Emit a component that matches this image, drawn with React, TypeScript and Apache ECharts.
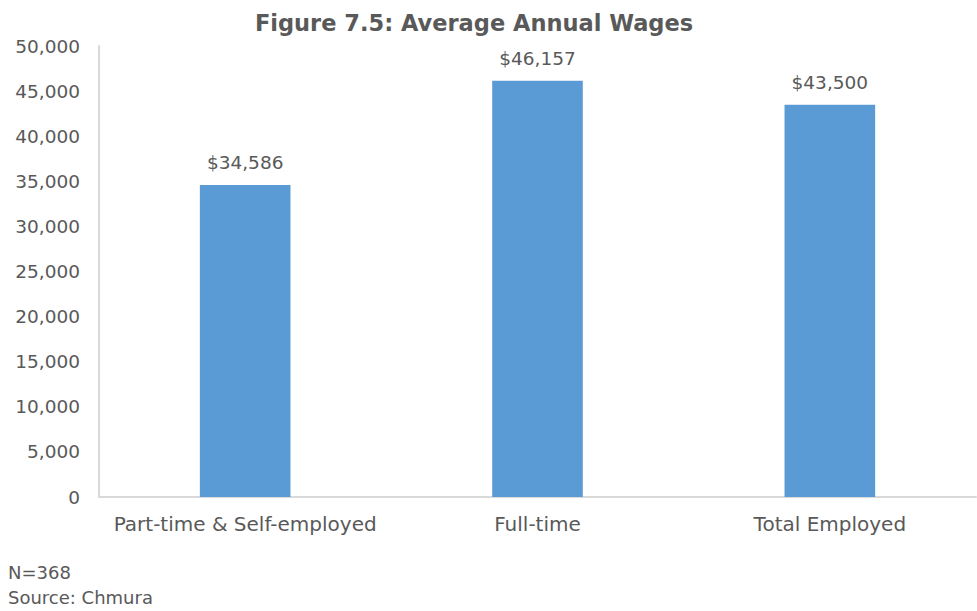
import React, { useEffect, useRef } from "react";
import * as echarts from "echarts";

const categories = ["Part-time & Self-employed", "Full-time", "Total Employed"];
const wages = [34586, 46157, 43500];
const titleText = "Figure 7.5: Average Annual Wages";
const notes = ["N=368", "Source: Chmura"];

const FONT = "'DejaVu Sans', sans-serif";
const TXT = "#595959";

export default function App() {
  const ref = useRef<HTMLDivElement>(null);
  useEffect(() => {
    document.body.style.margin = "0";
    if (!ref.current) return;
    const chart = echarts.init(ref.current, null, { renderer: "svg" });
    chart.setOption({
      animation: false,
      backgroundColor: "#ffffff",
      title: {
        text: titleText,
        left: 469,
        textAlign: "center",
        top: 6,
        textStyle: { fontFamily: FONT, fontSize: 22.5, fontWeight: "bold", color: TXT },
      },
      grid: { left: 99, right: 1, top: 46, bottom: 114, containLabel: false },
      xAxis: {
        type: "category",
        data: categories,
        axisLine: { lineStyle: { color: "#d9d9d9", width: 2 } },
        axisTick: { show: false },
        axisLabel: { interval: 0, fontFamily: FONT, fontSize: 20, color: TXT, margin: 17 },
      },
      yAxis: {
        type: "value",
        min: 0,
        max: 50000,
        interval: 5000,
        axisLine: { show: true, lineStyle: { color: "#d9d9d9", width: 2 } },
        axisTick: { show: false },
        splitLine: { show: false },
        axisLabel: {
          fontFamily: FONT,
          fontSize: 18.5,
          color: TXT,
          margin: 19,
          formatter: (v: number) => v.toLocaleString("en-US"),
        },
      },
      series: [
        {
          type: "bar",
          data: wages,
          barWidth: "31%",
          itemStyle: { color: "#5B9BD5" },
          label: {
            show: true,
            position: "top",
            distance: 13,
            fontFamily: FONT,
            fontSize: 18.5,
            color: TXT,
            formatter: (p: any) => "$" + Number(p.value).toLocaleString("en-US"),
          },
        },
      ],
      graphic: [
        {
          type: "text",
          left: 8,
          top: 563,
          style: { text: notes[0], font: `18px ${FONT}`, fill: TXT },
        },
        {
          type: "text",
          left: 8,
          top: 588,
          style: { text: notes[1], font: `18px ${FONT}`, fill: TXT },
        },
      ],
    });
    return () => chart.dispose();
  }, []);
  return <div ref={ref} style={{ width: 977, height: 611 }} />;
}
